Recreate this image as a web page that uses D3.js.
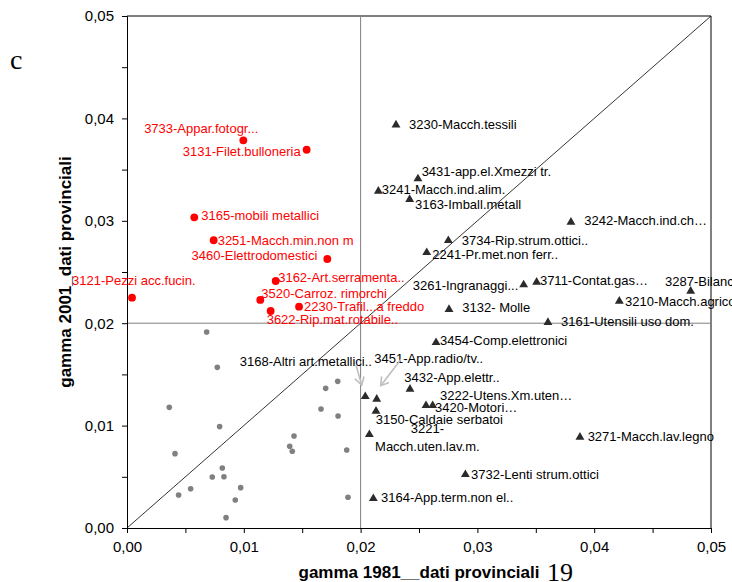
<!DOCTYPE html>
<html lang="it">
<head>
<meta charset="utf-8">
<title>gamma 1981 / gamma 2001 - dati provinciali</title>
<script src="https://cdn.jsdelivr.net/npm/d3@7"></script>
<style>
  body { margin: 0; background: #fff; }
  svg text { font-family: "Liberation Sans", Arial, sans-serif; }
</style>
</head>
<body>
<script>
// settori in rosso (gamma 2001 alta, gamma 1981 bassa)
var redNames = ["3733-Appar.fotogr...", "3131-Filet.bulloneria", "3165-mobili metallici",
  "3251-Macch.min.non m", "3460-Elettrodomestici", "3162-Art.serramenta..",
  "3520-Carroz. rimorchi", "2230-Trafil...a freddo", "3622-Rip.mat.rotabile..",
  "3121-Pezzi acc.fucin."];
var redX = [0.00996, 0.01538, 0.00576, 0.00742, 0.01715, 0.01273, 0.01141, 0.01473, 0.01230, 0.00043];
var redY = [0.03786, 0.03694, 0.03034, 0.02810, 0.02627, 0.02412, 0.02227, 0.02161, 0.02119, 0.02249];

// settori con gamma 1981 > 0,02 (triangoli)
var triNames = ["3230-Macch.tessili", "3431-app.el.Xmezzi tr.", "3241-Macch.ind.alim.",
  "3163-Imball.metall", "3242-Macch.ind.ch\u2026", "3734-Rip.strum.ottici..",
  "2241-Pr.met.non ferr..", "3261-Ingranaggi...", "3711-Contat.gas\u2026",
  "3287-Bilance", "3210-Macch.agricole", "3132- Molle", "3161-Utensili uso dom.",
  "3454-Comp.elettronici", "3432-App.elettr..", "3168-Altri art.metallici..",
  "3451-App.radio/tv..", "3150-Caldaie serbatoi", "3222-Utens.Xm.uten\u2026",
  "3420-Motori\u2026", "3221-Macch.uten.lav.m.", "3271-Macch.lav.legno",
  "3732-Lenti strum.ottici", "3164-App.term.non el.."];
var triX = [0.02303, 0.02491, 0.02152, 0.02420, 0.03801, 0.02751, 0.02566, 0.03396, 0.03507,
  0.04826, 0.04215, 0.02757, 0.03604, 0.02646, 0.02423, 0.02040, 0.02138, 0.02132, 0.02560,
  0.02617, 0.02075, 0.03878, 0.02897, 0.02109];
var triY = [0.03942, 0.03415, 0.03294, 0.03213, 0.02991, 0.02812, 0.02695, 0.02380, 0.02405,
  0.02318, 0.02220, 0.02139, 0.02012, 0.01816, 0.01360, 0.01289, 0.01263, 0.01146, 0.01201,
  0.01201, 0.00918, 0.00892, 0.00527, 0.00293];

// altri settori (grigio, senza etichetta)
var grayX = [0.00682, 0.00773, 0.00362, 0.00793, 0.00411, 0.00816, 0.00730, 0.00830, 0.00545,
  0.00442, 0.00973, 0.00927, 0.00848, 0.01701, 0.01804, 0.01661, 0.01807, 0.01430, 0.01393,
  0.01415, 0.01881, 0.01892];
var grayY = [0.01914, 0.01569, 0.01178, 0.00990, 0.00726, 0.00586, 0.00498, 0.00501, 0.00384,
  0.00322, 0.00394, 0.00273, 0.00101, 0.01364, 0.01432, 0.01162, 0.01094, 0.00898, 0.00798,
  0.00749, 0.00762, 0.00300];

var axisTicks = [0, 0.01, 0.02, 0.03, 0.04, 0.05];
var minorTicks = [0.005, 0.015, 0.025, 0.035, 0.045];
var threshold = 0.02;

// posizione delle etichette rispetto al punto: [dx, dy, anchor]
var labelPos = {
  "3733-Appar.fotogr...": [15, -7, "end"],
  "3131-Filet.bulloneria": [-6, 6.5, "end"],
  "3165-mobili metallici": [7, 2.5, "start"],
  "3251-Macch.min.non m": [4, 4.5, "start"],
  "3460-Elettrodomestici": [-10, 1.5, "end"],
  "3162-Art.serramenta..": [2.5, 1, "start"],
  "3520-Carroz. rimorchi": [1, -2, "start"],
  "2230-Trafil...a freddo": [5, 4.5, "start"],
  "3622-Rip.mat.rotabile..": [-4, 12.5, "start"],
  "3121-Pezzi acc.fucin.": [-60, -13, "start"],
  "3230-Macch.tessili": [13, 4.3, "start"],
  "3431-app.el.Xmezzi tr.": [3.7, -2, "start"],
  "3241-Macch.ind.alim.": [3.4, 3.3, "start"],
  "3163-Imball.metall": [5.3, 9.6, "start"],
  "3242-Macch.ind.ch\u2026": [13.3, 3.6, "start"],
  "3734-Rip.strum.ottici..": [13.4, 4.6, "start"],
  "2241-Pr.met.non ferr..": [5.6, 7, "start"],
  "3261-Ingranaggi...": [-5.4, 6, "end"],
  "3711-Contat.gas\u2026": [3.3, 3, "start"],
  "3287-Bilance": [-25.7, -4.4, "start"],
  "3210-Macch.agricole": [5.7, 5, "start"],
  "3132- Molle": [13.3, 3.3, "start"],
  "3161-Utensili uso dom.": [13, 4.3, "start"],
  "3454-Comp.elettronici": [4, 3.3, "start"],
  "3432-App.elettr..": [-5.7, -6.7, "start"],
  "3168-Altri art.metallici..": [6.7, -29.7, "end"],
  "3451-App.radio/tv..": [-2.4, -35.7, "start"],
  "3150-Caldaie serbatoi": [-0.3, 13, "start"],
  "3222-Utens.Xm.uten\u2026": [14, -5.4, "start"],
  "3420-Motori\u2026": [2.3, 7, "start"],
  "3221-Macch.uten.lav.m.": [41.4, -1, "start"],
  "3271-Macch.lav.legno": [7.7, 4, "start"],
  "3732-Lenti strum.ottici": [5.7, 4.6, "start"],
  "3164-App.term.non el..": [7.7, 4.3, "start"]
};
// frecce di richiamo: [nome, x0, y0, x1, y1] relative al punto
var arrows = [
  ["3168-Altri art.metallici..", -9.3, -31, -3.6, -11],
  ["3451-App.radio/tv..", 24.3, -39.4, 4, -13]
];

var W = 732, H = 582;
var margin = {top: 16, right: 21, bottom: 54, left: 127};
var w = W - margin.left - margin.right,
    h = H - margin.top - margin.bottom;

var svg = d3.select("body").append("svg")
    .attr("width", W)
    .attr("height", H);

var g = svg.append("g")
    .attr("transform", "translate(" + margin.left + "," + margin.top + ")");

var x = d3.scaleLinear().domain([0, 0.05]).range([0, w]);
var y = d3.scaleLinear().domain([0, 0.05]).range([h, 0]);

var fmt = function(v) { return d3.format(".2f")(v).replace(".", ","); };
var allTicks = axisTicks.concat(minorTicks).sort(d3.ascending);
var tickFmt = function(v) { return axisTicks.indexOf(v) >= 0 ? fmt(v) : ""; };

// bordo superiore e destro
g.append("line").attr("x1", 0).attr("x2", w).attr("y1", 0).attr("y2", 0)
    .attr("stroke", "#000").attr("stroke-width", 1);
g.append("line").attr("x1", w).attr("x2", w).attr("y1", 0).attr("y2", h)
    .attr("stroke", "#808080").attr("stroke-width", 2);

// linee di soglia e bisettrice
g.append("line").attr("x1", x(threshold)).attr("x2", x(threshold))
    .attr("y1", 0).attr("y2", h).attr("stroke", "#808080").attr("stroke-width", 1);
g.append("line").attr("x1", 0).attr("x2", w)
    .attr("y1", y(threshold)).attr("y2", y(threshold)).attr("stroke", "#808080").attr("stroke-width", 1);
g.append("line").attr("x1", x(0)).attr("y1", y(0)).attr("x2", x(0.05)).attr("y2", y(0.05))
    .attr("stroke", "#000").attr("stroke-width", 0.8);

// assi
var xAxis = g.append("g").attr("transform", "translate(0," + h + ")")
    .call(d3.axisBottom(x).tickValues(allTicks).tickFormat(tickFmt).tickSize(5).tickPadding(8));
var yAxis = g.append("g")
    .call(d3.axisLeft(y).tickValues(allTicks).tickFormat(tickFmt).tickSize(5).tickPadding(8));
[xAxis, yAxis].forEach(function(a) {
  a.select(".domain").attr("stroke", "#000");
  a.selectAll("line").attr("stroke", "#000");
  a.selectAll("text").attr("font-size", 15).attr("fill", "#000")
      .attr("font-family", "'Liberation Sans', Arial, sans-serif");
});

// punti grigi
var gray = grayX.map(function(v, i) { return {x: v, y: grayY[i]}; });
g.selectAll(".gray").data(gray).enter().append("circle")
    .attr("class", "gray")
    .attr("cx", function(d) { return x(d.x); })
    .attr("cy", function(d) { return y(d.y); })
    .attr("r", 2.8)
    .attr("fill", "#808080");

// triangoli
var tri = triNames.map(function(n, i) { return {name: n, x: triX[i], y: triY[i]}; });
g.selectAll(".tri").data(tri).enter().append("path")
    .attr("class", "tri")
    .attr("d", d3.symbol().type(d3.symbolTriangle).size(34))
    .attr("transform", function(d) { return "translate(" + x(d.x) + "," + (y(d.y) + 0.5) + ")"; })
    .attr("fill", "#2b2b2b");

// cerchi rossi
var red = redNames.map(function(n, i) { return {name: n, x: redX[i], y: redY[i]}; });
g.selectAll(".red").data(red).enter().append("circle")
    .attr("class", "red")
    .attr("cx", function(d) { return x(d.x); })
    .attr("cy", function(d) { return y(d.y); })
    .attr("r", 3.9)
    .attr("fill", "#ff0000");

// etichette
function addLabels(data, color) {
  data.forEach(function(d) {
    var p = labelPos[d.name];
    var t = g.append("text")
        .attr("x", x(d.x) + p[0])
        .attr("y", y(d.y) + p[1])
        .attr("text-anchor", p[2])
        .attr("font-size", 13)
        .attr("fill", color);
    if (d.name === "3221-Macch.uten.lav.m.") {
      // etichetta su due righe
      t.text("3221-");
      g.append("text")
          .attr("x", x(d.x) + 5.7)
          .attr("y", y(d.y) + 16.6)
          .attr("font-size", 13)
          .attr("fill", color)
          .text("Macch.uten.lav.m.");
    } else {
      t.text(d.name);
    }
  });
}
addLabels(red, "#ff0000");
addLabels(tri, "#000");

// frecce
svg.append("defs").append("marker")
    .attr("id", "head")
    .attr("markerUnits", "userSpaceOnUse")
    .attr("markerWidth", 14).attr("markerHeight", 14)
    .attr("refX", 8).attr("refY", 5)
    .attr("orient", "auto")
  .append("path")
    .attr("d", "M0,0 L8,5 L0,10")
    .attr("fill", "none")
    .attr("stroke", "#bfbfbf")
    .attr("stroke-width", 1.6);

arrows.forEach(function(a) {
  var d = tri.find(function(t) { return t.name === a[0]; });
  var px = x(d.x), py = y(d.y);
  g.append("line")
      .attr("x1", px + a[1]).attr("y1", py + a[2])
      .attr("x2", px + a[3]).attr("y2", py + a[4])
      .attr("stroke", "#bfbfbf")
      .attr("stroke-width", 1.6)
      .attr("marker-end", "url(#head)");
});

// titoli degli assi
svg.append("text")
    .attr("x", margin.left + w / 2)
    .attr("y", 578)
    .attr("text-anchor", "middle")
    .attr("font-size", 17)
    .attr("font-weight", "bold")
    .text("gamma 1981__dati provinciali");

svg.append("text")
    .attr("transform", "translate(71," + (margin.top + h / 2) + ") rotate(-90)")
    .attr("text-anchor", "middle")
    .attr("font-size", 17)
    .attr("font-weight", "bold")
    .text("gamma 2001_dati provinciali");

// lettera del pannello e numero di pagina
svg.append("text")
    .attr("x", 10).attr("y", 69)
    .style("font-family", "'Liberation Serif', 'Times New Roman', serif")
    .attr("font-size", 28)
    .text("c");

svg.append("text")
    .attr("x", 547).attr("y", 581)
    .style("font-family", "'Liberation Serif', 'Times New Roman', serif")
    .attr("font-size", 26)
    .text("19");
</script>
</body>
</html>
